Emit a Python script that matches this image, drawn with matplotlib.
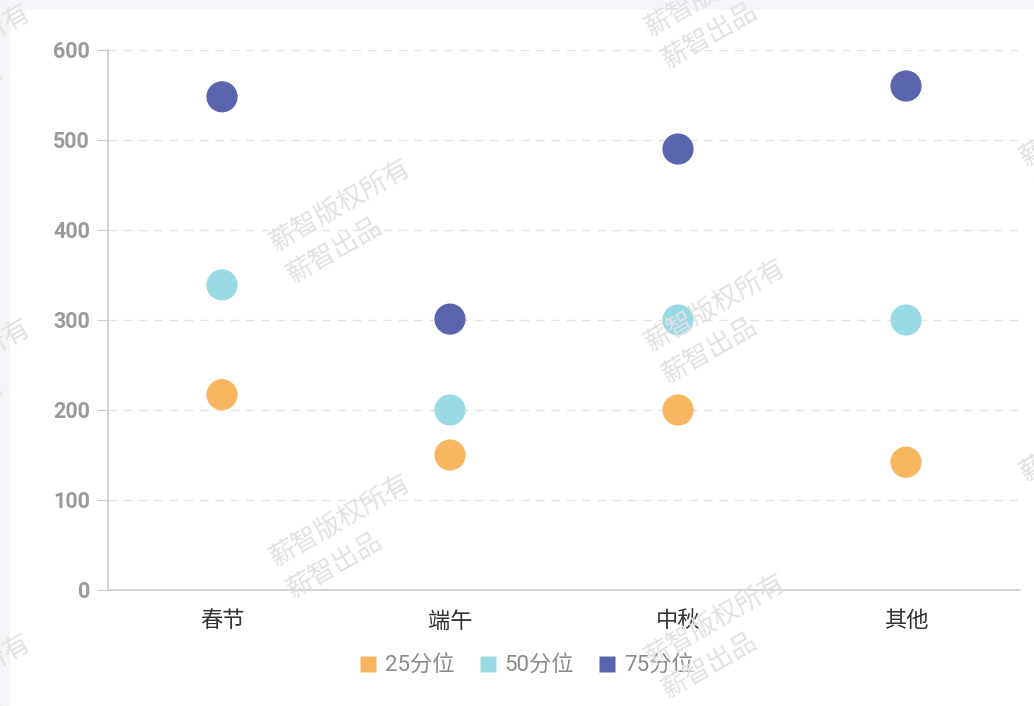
import matplotlib
matplotlib.use("Agg")
import matplotlib.pyplot as plt
from matplotlib.patches import FancyBboxPatch
from matplotlib.lines import Line2D

plt.rcParams['font.family'] = ['Roboto', 'Noto Sans CJK SC', 'DejaVu Sans']

# Holiday groups and percentile values
holidays = ['春节', '端午', '中秋', '其他']
p25 = [217, 150, 200, 142]
p50 = [339, 200, 300, 300]
p75 = [548, 301, 490, 560]
series_names = ['25分位', '50分位', '75分位']
series_colors = ['#F8B660', '#9ADAE5', '#5B65AE']
y_ticks = [0, 100, 200, 300, 400, 500, 600]

W, H = 1034, 706
fig = plt.figure(figsize=(W / 100, H / 100), dpi=100)
fig.patch.set_facecolor('#F4F6FA')

# white card behind the chart
card = FancyBboxPatch((10 / W, -0.05), 1.05, (H - 10) / H + 0.05,
                      boxstyle='round,pad=0,rounding_size=0.012',
                      transform=fig.transFigure, facecolor='white',
                      edgecolor='none', zorder=-5)
fig.patches.append(card)

ax = fig.add_axes([108 / W, (H - 590) / H, 912 / W, 540 / H])
ax.set_facecolor('none')

x = range(len(holidays))
for vals, name, color in zip([p25, p50, p75], series_names, series_colors):
    ax.scatter(x, vals, s=30 ** 2 * 0.56, color=color, edgecolor='none',
               zorder=3, label=name)

ax.set_xlim(-0.5, len(holidays) - 0.5)
ax.set_ylim(0, 600)
ax.set_yticks(y_ticks)
ax.set_yticklabels([str(v) for v in y_ticks], fontsize=15.5, color='#9A9A9A',
                   fontweight='bold')
ax.set_xticks(list(x))
ax.set_xticklabels(holidays, fontsize=16, color='#333333',
                   family=['Noto Sans CJK SC', 'DejaVu Sans'])

ax.yaxis.grid(True, linestyle=(0, (6, 5)), color='#E3E3E3', linewidth=1)
ax.set_axisbelow(True)
for side in ['top', 'right']:
    ax.spines[side].set_visible(False)
for side in ['left', 'bottom']:
    ax.spines[side].set_color('#CCCCCC')
    ax.spines[side].set_linewidth(1.2)
ax.tick_params(axis='y', length=8, color='#CCCCCC', pad=5)
ax.tick_params(axis='x', length=0, pad=14)

handles = [Line2D([], [], marker='s', linestyle='none', markersize=11,
                  markerfacecolor=c, markeredgecolor='none')
           for c in series_colors]
fig.legend(handles, series_names, loc='center', ncol=3,
           bbox_to_anchor=(0.508, (H - 666) / H), frameon=False,
           handletextpad=0.25, columnspacing=1.0, handlelength=1.0,
           prop={'size': 16, 'family': ['Roboto', 'Noto Sans CJK SC']},
           labelcolor='#8A8A8A')

# faint repeating watermark
wm_cols = [(-40, 50), (340, 205), (715, -10), (1090, 120)]
for cx, cy in wm_cols:
    for k in range(-1, 4):
        yy = cy + k * 315
        if yy < -60 or yy > H + 20:
            continue
        for txt, dx, dy in [('薪智版权所有', 0, 0), ('薪智出品', -5, 45)]:
            fig.text((cx + dx) / W, 1 - (yy + dy) / H, txt, rotation=30,
                     fontsize=19, color='#E2E2E2', ha='center', va='center',
                     family=['Noto Sans CJK SC'], zorder=10)

fig.savefig('out.png', dpi=100)
